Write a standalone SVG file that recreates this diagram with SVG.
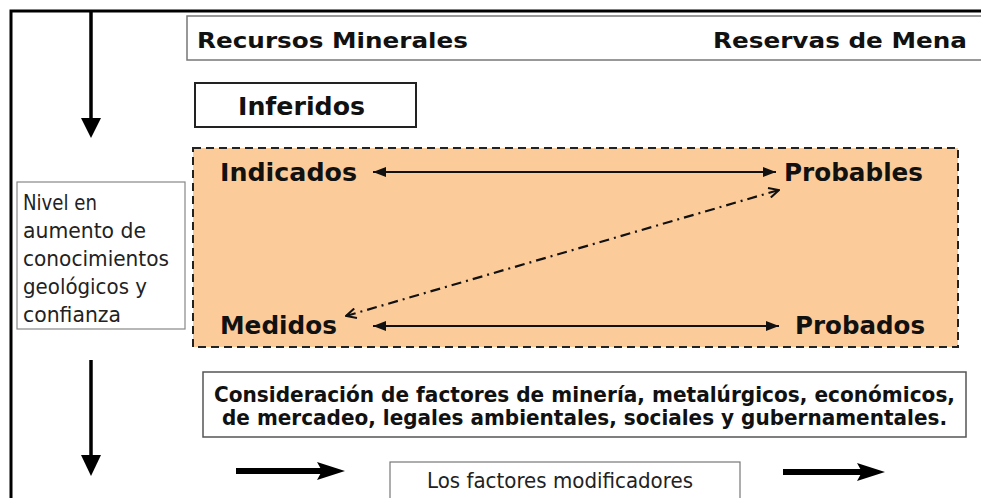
<svg xmlns="http://www.w3.org/2000/svg" width="981" height="498" viewBox="0 0 981 498">
<style>
.b{font-family:"DejaVu Sans","Liberation Sans",sans-serif;font-weight:bold;fill:#111}
.r{font-family:"DejaVu Sans","Liberation Sans",sans-serif;fill:#222}
.box{fill:#fff;stroke:#777;stroke-width:1.5}
.ln{stroke:#111;stroke-width:2.2;fill:none}
.thick{stroke:#000;stroke-width:6;fill:none}
.head{fill:#000}
</style>
<defs>
<marker id="tri" viewBox="0 0 13 10" refX="13" refY="5" markerWidth="13" markerHeight="10" markerUnits="userSpaceOnUse" orient="auto-start-reverse">
<path d="M0,0 L13,5 L0,10 Z" fill="#111"/>
</marker>
<marker id="open" viewBox="0 0 12 12" refX="11" refY="6" markerWidth="12" markerHeight="12" markerUnits="userSpaceOnUse" orient="auto-start-reverse">
<path d="M1,1 L11,6 L1,11" fill="none" stroke="#111" stroke-width="2"/>
</marker>
</defs>

<rect id="frame" x="11" y="11" width="1100" height="600" fill="none" stroke="#000" stroke-width="3"/>

<g id="header">
<rect class="box" x="187" y="16" width="900" height="44"/>
<text class="b" x="197" y="48" font-size="22" textLength="271" lengthAdjust="spacingAndGlyphs">Recursos Minerales</text>
<text class="b" x="713" y="48" font-size="22" textLength="254" lengthAdjust="spacingAndGlyphs">Reservas de Mena</text>
</g>

<g id="inferidos">
<rect x="195" y="83" width="221" height="44" fill="#fff" stroke="#222" stroke-width="2"/>
<text class="b" x="238" y="115" font-size="24" textLength="127" lengthAdjust="spacingAndGlyphs">Inferidos</text>
</g>

<g id="panel">
<rect x="193" y="148" width="765" height="199" fill="#fccb9a" stroke="#222" stroke-width="2" stroke-dasharray="8,5"/>
</g>

<g id="indicados"><text class="b" x="220" y="181" font-size="24" textLength="137" lengthAdjust="spacingAndGlyphs">Indicados</text></g>
<g id="probables"><text class="b" x="784" y="181" font-size="24" textLength="139" lengthAdjust="spacingAndGlyphs">Probables</text></g>
<g id="medidos"><text class="b" x="220" y="334" font-size="24" textLength="117" lengthAdjust="spacingAndGlyphs">Medidos</text></g>
<g id="probados"><text class="b" x="795" y="334" font-size="24" textLength="130" lengthAdjust="spacingAndGlyphs">Probados</text></g>

<g id="nivel">
<rect x="17" y="182" width="168" height="147" fill="#fff" stroke="#888" stroke-width="1.2"/>
<text class="r" font-size="21.5">
<tspan x="23" y="210" textLength="74" lengthAdjust="spacingAndGlyphs">Nivel en</tspan>
<tspan x="23" y="238" textLength="123" lengthAdjust="spacingAndGlyphs">aumento de</tspan>
<tspan x="23" y="266" textLength="146" lengthAdjust="spacingAndGlyphs">conocimientos</tspan>
<tspan x="23" y="294" textLength="124" lengthAdjust="spacingAndGlyphs">geológicos y</tspan>
<tspan x="23" y="322" textLength="98" lengthAdjust="spacingAndGlyphs">confianza</tspan>
</text>
</g>

<g id="consideracion">
<rect x="203" y="372" width="763" height="65" fill="#fff" stroke="#555" stroke-width="1.5"/>
<text class="b" x="214" y="402" font-size="20.5" textLength="741" lengthAdjust="spacingAndGlyphs">Consideración de factores de minería, metalúrgicos, económicos,</text>
<text class="b" x="222" y="425" font-size="20.5" textLength="725" lengthAdjust="spacingAndGlyphs">de mercadeo, legales ambientales, sociales y gubernamentales.</text>
</g>

<g id="factores">
<rect x="390" y="462" width="350" height="60" fill="#fff" stroke="#777" stroke-width="1.2"/>
<text class="r" x="427" y="488" font-size="21" textLength="266" lengthAdjust="spacingAndGlyphs">Los factores modificadores</text>
</g>

<g id="connectors">
<line x1="91" y1="11" x2="91" y2="120" stroke="#000" stroke-width="3.5"/>
<path class="head" d="M81,118 L101,118 L91,138 Z"/>
<line x1="91" y1="360" x2="91" y2="457" stroke="#000" stroke-width="3.5"/>
<path class="head" d="M81,455 L101,455 L91,476 Z"/>
<line class="ln" x1="373" y1="172" x2="776" y2="172" marker-start="url(#tri)" marker-end="url(#tri)"/>
<line class="ln" x1="373" y1="326" x2="779" y2="326" marker-start="url(#tri)" marker-end="url(#tri)"/>
<line class="ln" x1="346" y1="316" x2="779" y2="190" stroke-dasharray="10,5,2,5" marker-start="url(#open)" marker-end="url(#open)"/>
<line class="thick" x1="236" y1="471" x2="325" y2="471"/>
<path class="head" d="M317,462 L345,471 L317,480 L322,471 Z"/>
<line class="thick" x1="783" y1="472" x2="865" y2="472"/>
<path class="head" d="M857,463 L885,472 L857,481 L862,472 Z"/>
</g>
</svg>
